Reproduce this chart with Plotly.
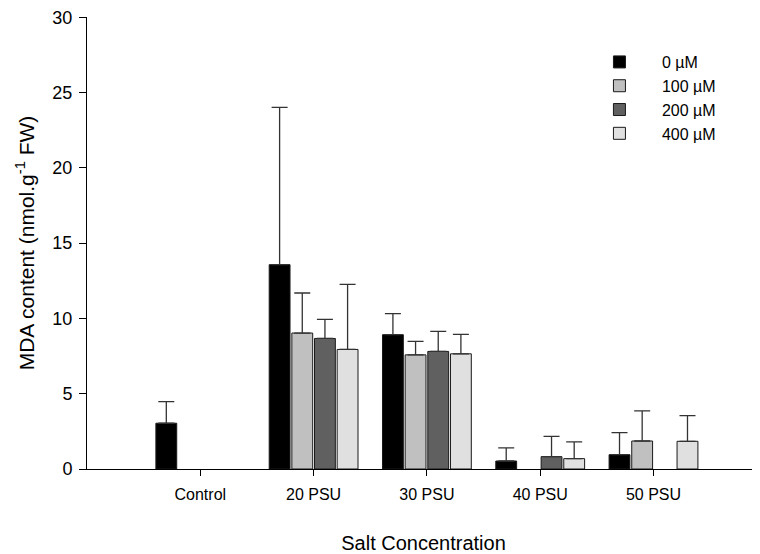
import plotly.graph_objects as go

categories = ["Control", "20 PSU", "30 PSU", "40 PSU", "50 PSU"]
series_names = ["0 µM", "100 µM", "200 µM", "400 µM"]
v_0 = [3.04, 13.57, 8.92, 0.53, 0.95]
e_0 = [1.44, 10.45, 1.40, 0.87, 1.47]
v_100 = [None, 9.03, 7.58, None, 1.86]
e_100 = [None, 2.66, 0.89, None, 2.00]
v_200 = [None, 8.67, 7.81, 0.82, None]
e_200 = [None, 1.27, 1.33, 1.35, None]
v_400 = [None, 7.94, 7.65, 0.69, 1.84]
e_400 = [None, 4.32, 1.29, 1.11, 1.71]
y_ticks = [0, 5, 10, 15, 20, 25, 30]

values = [v_0, v_100, v_200, v_400]
errors = [e_0, e_100, e_200, e_400]
fills = ["#000000", "#c0c0c0", "#606060", "#e0e0e0"]

fig = go.Figure()
for name, v, e, c in zip(series_names, values, errors, fills):
    fig.add_trace(go.Bar(
        x=categories, y=v, name=name,
        marker=dict(color=c, line=dict(color="#1a1a1a", width=1)),
        error_y=dict(type="data", array=e, arrayminus=[0]*len(e), symmetric=False,
                     color="#333333", thickness=1.3, width=8),
    ))

# the page body adds an 8px offset, so the figure is 8px smaller than the window
fig.update_layout(
    width=752, height=546,
    margin=dict(l=79, r=0, t=9, b=85),
    plot_bgcolor="white", paper_bgcolor="white",
    barmode="group", bargap=0.2, bargroupgap=0.08,
    font=dict(family="Liberation Sans, Arial, sans-serif", size=16, color="#000"),
    showlegend=True,
    legend=dict(x=0.728, y=0.938, xanchor="left", yanchor="top", itemwidth=75,
                bgcolor="rgba(0,0,0,0)", font=dict(size=16), traceorder="normal"),
    xaxis=dict(range=[-1, 4.94], showline=True, linecolor="#000", linewidth=1,
               ticks="outside", ticklen=6, tickcolor="#000", showgrid=False,
               automargin=False, tickfont=dict(size=16), ticklabelstandoff=5,
               title=dict(text="Salt Concentration", font=dict(size=20), standoff=36)),
    yaxis=dict(range=[0, 30.02], tickvals=y_ticks, showline=True, linecolor="#000", linewidth=1,
               ticks="outside", ticklen=7, tickcolor="#000", showgrid=False, zeroline=False,
               automargin=False, tickfont=dict(size=18), ticklabelstandoff=3,
               ticklabeloverflow="allow",
               title=dict(text="MDA content (nmol.g<sup>-1</sup> FW)", font=dict(size=21), standoff=12)),
)

fig.write_html("out.html")
